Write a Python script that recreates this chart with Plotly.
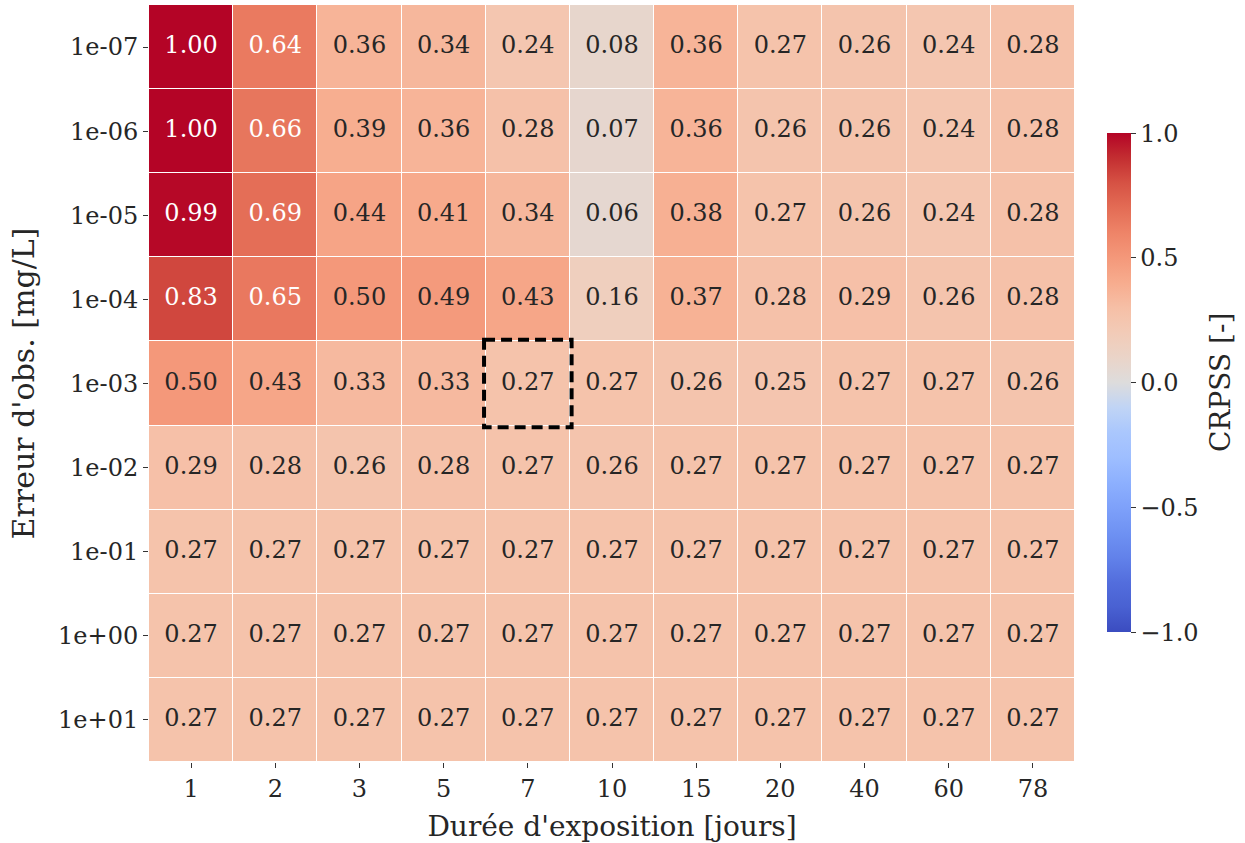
import plotly.graph_objects as go

durations = ["1", "2", "3", "5", "7", "10", "15", "20", "40", "60", "78"]
errors = ["1e-07", "1e-06", "1e-05", "1e-04", "1e-03", "1e-02", "1e-01", "1e+00", "1e+01"]

row_1e07 = [1.00, 0.64, 0.36, 0.34, 0.24, 0.08, 0.36, 0.27, 0.26, 0.24, 0.28]
row_1e06 = [1.00, 0.66, 0.39, 0.36, 0.28, 0.07, 0.36, 0.26, 0.26, 0.24, 0.28]
row_1e05 = [0.99, 0.69, 0.44, 0.41, 0.34, 0.06, 0.38, 0.27, 0.26, 0.24, 0.28]
row_1e04 = [0.83, 0.65, 0.50, 0.49, 0.43, 0.16, 0.37, 0.28, 0.29, 0.26, 0.28]
row_1e03 = [0.50, 0.43, 0.33, 0.33, 0.27, 0.27, 0.26, 0.25, 0.27, 0.27, 0.26]
row_1e02 = [0.29, 0.28, 0.26, 0.28, 0.27, 0.26, 0.27, 0.27, 0.27, 0.27, 0.27]
row_1e01 = [0.27] * 11
row_1e00 = [0.27] * 11
row_1e_01 = [0.27] * 11

z = [row_1e07, row_1e06, row_1e05, row_1e04, row_1e03, row_1e02, row_1e01, row_1e00, row_1e_01]

highlight_x = "7"
highlight_y = "1e-03"

cbar_ticks = [-1.0, -0.5, 0.0, 0.5, 1.0]
cbar_ticktext = ["\u22121.0", "\u22120.5", "0.0", "0.5", "1.0"]

coolwarm = [
    [0.00, "#3b4cc0"], [0.05, "#4961d2"], [0.10, "#536edd"], [0.15, "#6282ea"],
    [0.20, "#6f92f3"], [0.25, "#7ea1fa"], [0.30, "#8db0fe"], [0.35, "#9ebeff"],
    [0.40, "#aac7fd"], [0.45, "#c0d4f5"], [0.50, "#dddcdc"], [0.55, "#ead4c8"],
    [0.60, "#f2cbb7"], [0.65, "#f6bfa6"], [0.70, "#f7ac8e"], [0.75, "#f4987a"],
    [0.80, "#ee8468"], [0.85, "#e36c55"], [0.90, "#d65244"], [0.95, "#c32e31"],
    [1.00, "#b40426"],
]

FONT = "DejaVu Serif"
TXT = "#262626"

fig = go.Figure()
fig.add_trace(go.Heatmap(
    z=z, x=durations, y=errors, zmin=-1, zmax=1, colorscale=coolwarm,
    xgap=1, ygap=1, hoverinfo="skip",
    colorbar=dict(
        x=1.0346, xanchor="left", y=0.501, yanchor="middle", len=0.659,
        lenmode="fraction", thickness=24, outlinewidth=0, xpad=0, ypad=0,
        tickvals=cbar_ticks, ticktext=cbar_ticktext, ticks="outside",
        ticklen=5, tickcolor="#333", tickfont=dict(family=FONT, size=24, color=TXT),
    ),
))

xs, ys, texts, colors = [], [], [], []
for i, e in enumerate(errors):
    for j, d in enumerate(durations):
        v = z[i][j]
        xs.append(d)
        ys.append(e)
        texts.append(f"{v:.2f}")
        colors.append("white" if v >= 0.6 else TXT)

fig.add_trace(go.Scatter(
    x=xs, y=ys, text=texts, mode="text",
    textfont=dict(family=FONT, size=24, color=colors),
    hoverinfo="skip", showlegend=False,
))

xi = durations.index(highlight_x)
yi = errors.index(highlight_y)
fig.add_shape(type="rect", xref="x", yref="y",
              x0=xi - 0.52, x1=xi + 0.52, y0=yi - 0.52, y1=yi + 0.52,
              line=dict(color="black", width=4, dash="11px,6px"))

fig.add_annotation(text="CRPSS [-]", xref="paper", yref="paper", x=1.157, y=0.501,
                   xanchor="center", yanchor="middle", textangle=-90, showarrow=False,
                   font=dict(family=FONT, size=28, color=TXT))

fig.update_layout(
    width=1245, height=843,
    margin=dict(l=149, r=170, t=5, b=81),
    paper_bgcolor="white", plot_bgcolor="white",
    font=dict(family=FONT, color=TXT),
    showlegend=False,
    xaxis=dict(
        type="category", showgrid=False, zeroline=False, ticks="outside",
        ticklen=5, tickcolor="#333", tickfont=dict(family=FONT, size=24, color=TXT),
        title=dict(text="Durée d'exposition [jours]", font=dict(family=FONT, size=28, color=TXT), standoff=14),
        range=[-0.5, len(durations) - 0.5],
    ),
    yaxis=dict(
        type="category", showgrid=False, zeroline=False, ticks="outside",
        ticklen=5, tickcolor="#333", tickfont=dict(family=FONT, size=24, color=TXT),
        title=dict(text="Erreur d'obs. [mg/L]", font=dict(family=FONT, size=30, color=TXT), standoff=14),
        range=[len(errors) - 0.5, -0.5],
    ),
)

fig.write_html("out.html", config={"displayModeBar": False},
               post_script="document.body.style.margin='0';document.body.style.overflow='hidden';")
